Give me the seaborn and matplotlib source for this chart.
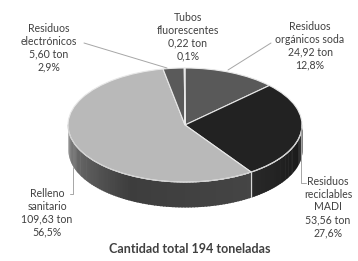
import numpy as np
import matplotlib
matplotlib.use("Agg")
import matplotlib.pyplot as plt
import seaborn as sns

# datos
categorias = ["Residuos\norgánicos soda", "Residuos\nreciclables\nMADI", "Relleno\nsanitario",
              "Residuos\nelectrónicos", "Tubos\nfluorescentes"]
toneladas = ["24,92", "53,56", "109,63", "5,60", "0,22"]
porcentajes = [12.8, 27.6, 56.5, 2.9, 0.1]
titulo = "Cantidad total 194 toneladas"

colores_sup = ["#595959", "#222222", "#b9b9b9", "#5a5a5a", "#8c8c8c"]
# luminosidad del lateral (inicio, medio, fin) por sector
luz_lateral = [(0.30, 0.25, 0.22), (0.16, 0.12, 0.09), (0.50, 0.24, 0.27),
               (0.30, 0.28, 0.26), (0.4, 0.4, 0.4)]

sns.set_theme(style="white")
plt.rcParams["font.family"] = ["Lato", "DejaVu Sans"]

W, H = 358, 261
cx, cy, a, b = 185.0, 125.0, 117.0, 57.0
prof = 25.0 / b


def px(x, y):
    return (x - cx) / a, (cy - y) / b


fig = plt.figure(figsize=(W / 100, H / 100), dpi=100)
ax = fig.add_axes([0, 0, 1, 1])

# lateral (visible de -180 a 0 grados)
frac = np.array(porcentajes) / np.sum(porcentajes)
lim = 90 - np.concatenate([[0], np.cumsum(frac)]) * 360
for i in range(len(porcentajes)):
    hi, lo = lim[i], lim[i + 1]
    for sh in (0, -360):
        t0, t1 = max(lo - sh, -180), min(hi - sh, 0)
        if t1 <= t0:
            continue
        n = max(int((t1 - t0) / 1.5), 2)
        edges = np.linspace(t0, t1, n + 1)
        l0, l1, l2 = luz_lateral[i]
        for k in range(n):
            u = (k + 0.5) / n
            l = np.interp(u, [0, 0.5, 1], [l0, l1, l2])
            tt = np.radians(np.linspace(edges[k], edges[k + 1] + 0.6, 4))
            xs = np.cos(tt)
            ax.fill_between(xs, np.sin(tt) - prof, np.sin(tt), color=(l, l, l),
                            lw=0, zorder=1)
        if t0 > -180:
            r = np.radians(t0)
            ax.plot([np.cos(r)] * 2, [np.sin(r), np.sin(r) - prof], color="#d8d8d8",
                    lw=0.8, zorder=3)

# cara superior
wedges, _ = ax.pie(porcentajes, startangle=90, counterclock=False, colors=colores_sup,
                   wedgeprops=dict(edgecolor="#e8e8e8", linewidth=0.8), radius=1)
for w in wedges:
    w.set_zorder(2)
tt = np.radians(np.linspace(-180, 0, 200))
ax.plot(np.cos(tt), np.sin(tt), color="#d0d0d0", lw=0.7, zorder=3)

ax.set_aspect("auto")
x0, y0 = px(0, H)
x1, y1 = px(W, 0)
ax.set_xlim(x0, x1)
ax.set_ylim(y0, y1)
ax.axis("off")

# etiquetas
pos = [(310, 46), (328, 207), (47, 213), (49, 48), (188, 37)]
gris = "#404040"
for i, (x, y) in enumerate(pos):
    txt = f"{categorias[i]}\n{toneladas[i]} ton\n{porcentajes[i]:.1f}%".replace(".", ",")
    ax.text(*px(x, y), txt, ha="center", va="center", fontsize=7.6, color=gris,
            linespacing=1.2, zorder=5)

lineas = [
    [(271, 43), (228, 70)],
    [(306, 183), (301, 183), (301, 128)],
    [(70, 194), (73, 194), (73, 167)],
    [(84, 43), (167, 68)],
]
for ln in lineas:
    xs, ys = zip(*[px(x, y) for x, y in ln])
    ax.plot(xs, ys, color="#a6a6a6", lw=0.7, zorder=4)

ax.text(*px(190, 249), titulo, ha="center", va="center", fontsize=9, fontweight="bold",
        color=gris)

fig.savefig("out.png", dpi=100)
